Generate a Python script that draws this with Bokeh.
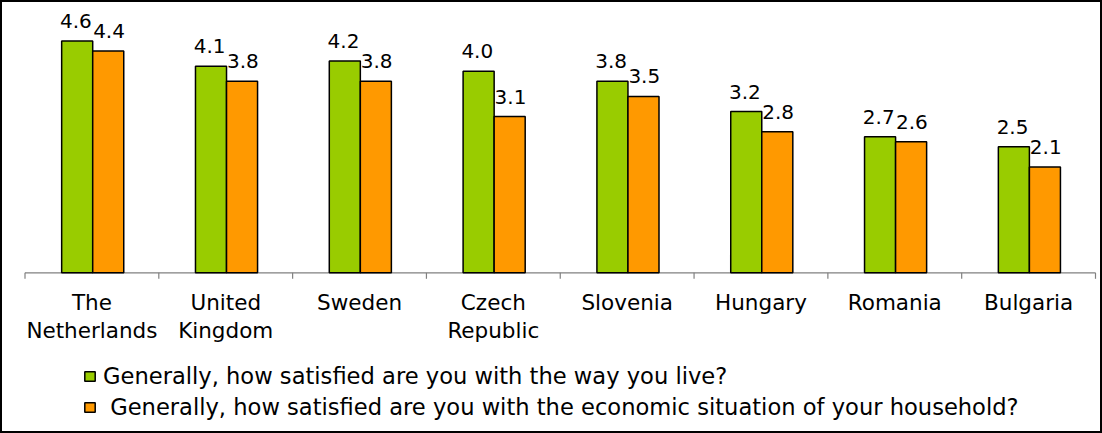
from bokeh.plotting import figure
from bokeh.models import Range1d, ColumnDataSource, Legend, LegendItem
from bokeh.transform import dodge
from bokeh.core.properties import value
from bokeh.embed import file_html
from bokeh.resources import INLINE

# ---- data ----
countries = ["The\nNetherlands", "United\nKingdom", "Sweden", "Czech\nRepublic",
             "Slovenia", "Hungary", "Romania", "Bulgaria"]
life_satisfaction = [4.6, 4.1, 4.2, 4.0, 3.8, 3.2, 2.7, 2.5]
economic_satisfaction = [4.4, 3.8, 3.8, 3.1, 3.5, 2.8, 2.6, 2.1]
series_names = [
    "Generally, how satisfied are you with the way you live?",
    "\u00a0Generally, how satisfied are you with the economic situation of your household?",
]

FONT = "DejaVu Sans"
GREEN = "#99CC00"
ORANGE = "#FF9900"
AXIS_GREY = "#808080"

n = len(countries)
centers = [i + 0.5 for i in range(n)]          # category slot centres
edges = [float(i) for i in range(n + 1)]       # category slot boundaries

W_PX, H_PX = 1102, 433
X0_PX, X1_PX = 24.5, 1095.0     # pixel span of the category axis
BASE_PX = 272.3                 # pixel row of the value axis zero
PX_PER_UNIT = 50.4              # pixels per satisfaction unit
px_x = (X1_PX - X0_PX) / n

x_range = Range1d(-X0_PX / px_x, n + (W_PX - X1_PX) / px_x)
y_range = Range1d(-(H_PX - BASE_PX) / PX_PER_UNIT, BASE_PX / PX_PER_UNIT)
tick_len = -6 / PX_PER_UNIT

source = ColumnDataSource(dict(
    xc=centers,
    country=countries,
    life=life_satisfaction,
    econ=economic_satisfaction,
    life_txt=[f"{v:.1f}" for v in life_satisfaction],
    econ_txt=[f"{v:.1f}" for v in economic_satisfaction],
))

p = figure(width=W_PX, height=H_PX, x_range=x_range, y_range=y_range,
           output_backend="svg", toolbar_location=None,
           x_axis_location=None, y_axis_location=None,
           min_border=0, min_border_left=0, min_border_right=0,
           min_border_top=0, min_border_bottom=0)
p.outline_line_color = "black"
p.outline_line_width = 3
p.grid.visible = False
p.background_fill_color = "white"
p.border_fill_color = "white"

# category axis (line, boundary ticks, labels)
p.segment(x0=[edges[0]], y0=[0], x1=[edges[-1]], y1=[0],
          line_color=AXIS_GREY, line_width=1.2)
p.segment(x0=edges, y0=[0] * len(edges), x1=edges, y1=[tick_len] * len(edges),
          line_color=AXIS_GREY, line_width=1.2)
p.text(x="xc", y=0, text="country", source=source,
       text_font=value(FONT), text_font_size="21.5px", text_align="center",
       text_baseline="top", y_offset=17, text_line_height=1.12, text_color="black")

W = 0.232
r1 = p.vbar(x=dodge("xc", -0.11), top="life", width=W, source=source,
            fill_color=GREEN, line_color="black", line_width=1.5)
r2 = p.vbar(x=dodge("xc", 0.122), top="econ", width=W, source=source,
            fill_color=ORANGE, line_color="black", line_width=1.5)

p.text(x=dodge("xc", -0.12), y="life", text="life_txt", source=source,
       text_font=value(FONT), text_font_size="20px", text_align="center",
       text_baseline="alphabetic", y_offset=-20, text_color="black")
p.text(x=dodge("xc", 0.128), y="econ", text="econ_txt", source=source,
       text_font=value(FONT), text_font_size="20px", text_align="center",
       text_baseline="alphabetic", y_offset=-20, text_color="black")

legend = Legend(items=[LegendItem(label=series_names[0], renderers=[r1]),
                       LegendItem(label=series_names[1], renderers=[r2])],
                location=(83, 13), padding=0, margin=0, spacing=5,
                glyph_width=13, glyph_height=12, label_standoff=7,
                label_text_font=FONT, label_text_font_size="22.6px",
                label_text_color="black",
                border_line_color=None, background_fill_alpha=0)
p.add_layout(legend, "center")

open("out.html", "w").write(file_html(p, INLINE))
